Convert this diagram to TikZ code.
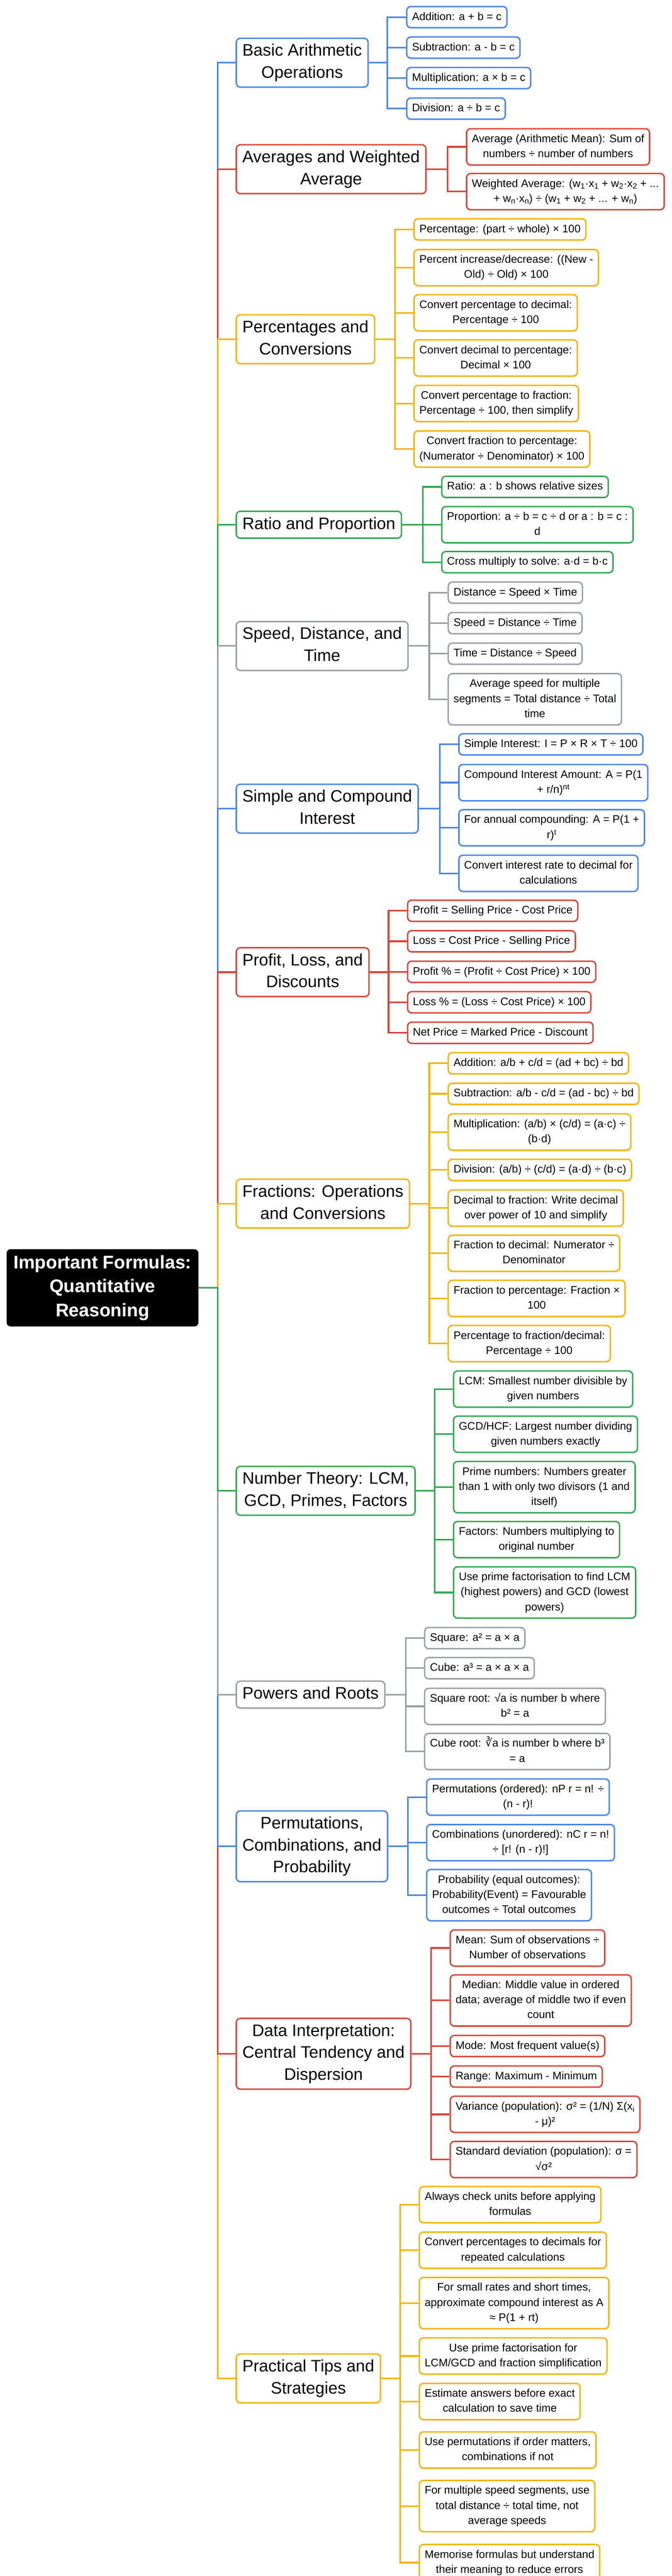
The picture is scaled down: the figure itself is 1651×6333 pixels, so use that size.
\documentclass[tikz,border=0pt]{standalone}
\usepackage{fontspec}
\setmainfont{Liberation Sans}
\newfontfamily\dejavu{DejaVu Sans}
\usetikzlibrary{shadows}
\definecolor{cb}{RGB}{74,134,232}
\definecolor{cr}{RGB}{219,68,55}
\definecolor{cy}{RGB}{244,180,0}
\definecolor{cg}{RGB}{52,168,83}
\definecolor{cgr}{RGB}{154,160,166}
\newcommand\NL{\\\strut}
\newcommand\sub[1]{\textsubscript{#1}}
\newcommand\sups[1]{\textsuperscript{#1}}
\pgfdeclarelayer{bg}
\pgfsetlayers{bg,main}
\tikzset{
  box/.style={rounded corners=10pt, line width=3.5pt, fill=white, align=center,
    drop shadow={opacity=0.18, shadow xshift=0pt, shadow yshift=-3pt}},
  leaf/.style={box, draw=#1, anchor=west, inner xsep=13pt, inner ysep=7.5pt,
    font=\fontsize{27}{37}\selectfont},
  cat/.style={box, draw=#1, anchor=west, inner xsep=15pt, inner ysep=6pt,
    font=\fontsize{41}{54}\selectfont},
  conn/.style={draw=#1, line width=4pt},
}
\begin{document}
\begin{tikzpicture}[x=1pt,y=-1pt]
\useasboundingbox (0,0) rectangle (1651,6333);
% root
\node[fill=black, text=white, rounded corners=10pt, align=center, inner xsep=17pt, inner ysep=6.5pt,
  font=\fontsize{45}{59}\selectfont\bfseries, anchor=west] (root) at (16,3166)
  {\strut Important Formulas:\NL Quantitative\NL Reasoning};
% categories
\node[cat=cb] (c1) at (579,154) {\strut Basic Arithmetic\NL Operations};
\node[cat=cr] (c2) at (579,416) {\strut Averages and Weighted\NL Average};
\node[cat=cy] (c3) at (579,834) {\strut Percentages and\NL Conversions};
\node[cat=cg] (c4) at (579,1290) {\strut Ratio and Proportion};
\node[cat=cgr] (c5) at (579,1588) {\strut Speed, Distance, and\NL Time};
\node[cat=cb] (c6) at (579,1988) {\strut Simple and Compound\NL Interest};
\node[cat=cr] (c7) at (579,2390) {\strut Profit, Loss, and\NL Discounts};
\node[cat=cy] (c8) at (579,2959) {\strut Fractions: Operations\NL and Conversions};
\node[cat=cg] (c9) at (579,3665) {\strut Number Theory: LCM,\NL GCD, Primes, Factors};
\node[cat=cgr] (c10) at (579,4166) {\strut Powers and Roots};
\node[cat=cb] (c11) at (579,4539) {\strut Permutations,\NL Combinations, and\NL Probability};
\node[cat=cr] (c12) at (579,5049) {\strut Data Interpretation:\NL Central Tendency and\NL Dispersion};
\node[cat=cy] (c13) at (579,5847) {\strut Practical Tips and\NL Strategies};
% leaves 1
\node[leaf=cb] (a1) at (998,42) {\strut Addition: a + b = c};
\node[leaf=cb] (a2) at (998,117) {\strut Subtraction: a - b = c};
\node[leaf=cb] (a3) at (998,192) {\strut Multiplication: a × b = c};
\node[leaf=cb] (a4) at (998,267) {\strut Division: a ÷ b = c};
% 2
\node[leaf=cr] (b1) at (1145,361) {\strut Average (Arithmetic Mean): Sum of\NL numbers ÷ number of numbers};
\node[leaf=cr] (b2) at (1145,471) {\strut Weighted Average: (w\sub{1}·x\sub{1} + w\sub{2}·x\sub{2} + ...\NL + w\sub{n}·x\sub{n}) ÷ (w\sub{1} + w\sub{2} + ... + w\sub{n})};
% 3
\node[leaf=cy] (d1) at (1016,564) {\strut Percentage: (part ÷ whole) × 100};
\node[leaf=cy] (d2) at (1016,658) {\strut Percent increase/decrease: ((New -\NL Old) ÷ Old) × 100};
\node[leaf=cy] (d3) at (1016,769) {\strut Convert percentage to decimal:\NL Percentage ÷ 100};
\node[leaf=cy] (d4) at (1016,880) {\strut Convert decimal to percentage:\NL Decimal × 100};
\node[leaf=cy] (d5) at (1016,992) {\strut Convert percentage to fraction:\NL Percentage ÷ 100, then simplify};
\node[leaf=cy] (d6) at (1016,1104) {\strut Convert fraction to percentage:\NL (Numerator ÷ Denominator) × 100};
% 4
\node[leaf=cg] (e1) at (1084,1197) {\strut Ratio: a : b shows relative sizes};
\node[leaf=cg] (e2) at (1084,1290) {\strut Proportion: a ÷ b = c ÷ d or a : b = c :\NL d};
\node[leaf=cg] (e3) at (1084,1382) {\strut Cross multiply to solve: a·d = b·c};
% 5
\node[leaf=cgr] (f1) at (1100,1457) {\strut Distance = Speed × Time};
\node[leaf=cgr] (f2) at (1100,1532) {\strut Speed = Distance ÷ Time};
\node[leaf=cgr] (f3) at (1100,1607) {\strut Time = Distance ÷ Speed};
\node[leaf=cgr] (f4) at (1100,1719) {\strut Average speed for multiple\NL segments = Total distance ÷ Total\NL time};
% 6
\node[leaf=cb] (g1) at (1126,1830) {\strut Simple Interest: I = P × R × T ÷ 100};
\node[leaf=cb] (g2) at (1126,1924) {\strut Compound Interest Amount: A = P(1\NL + r/n)\sups{nt}};
\node[leaf=cb] (g3) at (1126,2035) {\strut For annual compounding: A = P(1 +\NL r)\sups{t}};
\node[leaf=cb] (g4) at (1126,2147) {\strut Convert interest rate to decimal for\NL calculations};
% 7
\node[leaf=cr] (h1) at (1000,2239) {\strut Profit = Selling Price - Cost Price};
\node[leaf=cr] (h2) at (1000,2314) {\strut Loss = Cost Price - Selling Price};
\node[leaf=cr] (h3) at (1000,2389) {\strut Profit \% = (Profit ÷ Cost Price) × 100};
\node[leaf=cr] (h4) at (1000,2464) {\strut Loss \% = (Loss ÷ Cost Price) × 100};
\node[leaf=cr] (h5) at (1000,2539) {\strut Net Price = Marked Price - Discount};
% 8
\node[leaf=cy] (i1) at (1100,2614) {\strut Addition: a/b + c/d = (ad + bc) ÷ bd};
\node[leaf=cy] (i2) at (1100,2689) {\strut Subtraction: a/b - c/d = (ad - bc) ÷ bd};
\node[leaf=cy] (i3) at (1100,2783) {\strut Multiplication: (a/b) × (c/d) = (a·c) ÷\NL (b·d)};
\node[leaf=cy] (i4) at (1100,2876) {\strut Division: (a/b) ÷ (c/d) = (a·d) ÷ (b·c)};
\node[leaf=cy] (i5) at (1100,2970) {\strut Decimal to fraction: Write decimal\NL over power of 10 and simplify};
\node[leaf=cy] (i6) at (1100,3081) {\strut Fraction to decimal: Numerator ÷\NL Denominator};
\node[leaf=cy] (i7) at (1100,3192) {\strut Fraction to percentage: Fraction ×\NL 100};
\node[leaf=cy] (i8) at (1100,3303) {\strut Percentage to fraction/decimal:\NL Percentage ÷ 100};
% 9
\node[leaf=cg] (j1) at (1113,3415) {\strut LCM: Smallest number divisible by\NL given numbers};
\node[leaf=cg] (j2) at (1113,3526) {\strut GCD/HCF: Largest number dividing\NL given numbers exactly};
\node[leaf=cg] (j3) at (1113,3656) {\strut Prime numbers: Numbers greater\NL than 1 with only two divisors (1 and\NL itself)};
\node[leaf=cg] (j4) at (1113,3785) {\strut Factors: Numbers multiplying to\NL original number};
\node[leaf=cg] (j5) at (1113,3915) {\strut Use prime factorisation to find LCM\NL (highest powers) and GCD (lowest\NL powers)};
% 10
\node[leaf=cgr] (k1) at (1042,4027) {\strut Square: a² = a × a};
\node[leaf=cgr] (k2) at (1042,4101) {\strut Cube: a³ = a × a × a};
\node[leaf=cgr] (k3) at (1042,4195) {\strut Square root: √a is number b where\NL b² = a};
\node[leaf=cgr] (k4) at (1042,4306) {\strut Cube root: {\dejavu ∛}a is number b where b³\NL = a};
% 11
\node[leaf=cb] (l1) at (1047,4418) {\strut Permutations (ordered): nP r = n! ÷\NL (n - r)!};
\node[leaf=cb] (l2) at (1047,4530) {\strut Combinations (unordered): nC r = n!\NL ÷ [r! (n - r)!]};
\node[leaf=cb] (l3) at (1047,4659) {\strut Probability (equal outcomes):\NL Probability(Event) = Favourable\NL outcomes ÷ Total outcomes};
% 12
\node[leaf=cr] (m1) at (1105,4789) {\strut Mean: Sum of observations ÷\NL Number of observations};
\node[leaf=cr] (m2) at (1105,4918) {\strut Median: Middle value in ordered\NL data; average of middle two if even\NL count};
\node[leaf=cr] (m3) at (1105,5030) {\strut Mode: Most frequent value(s)};
\node[leaf=cr] (m4) at (1105,5105) {\strut Range: Maximum - Minimum};
\node[leaf=cr] (m5) at (1105,5198) {\strut Variance (population): σ² = (1/N) Σ(x\sub{i}\NL - μ)²};
\node[leaf=cr] (m6) at (1105,5309) {\strut Standard deviation (population): σ =\NL √σ²};
% 13
\node[leaf=cy] (n1) at (1029,5420) {\strut Always check units before applying\NL formulas};
\node[leaf=cy] (n2) at (1029,5532) {\strut Convert percentages to decimals for\NL repeated calculations};
\node[leaf=cy] (n3) at (1029,5662) {\strut For small rates and short times,\NL approximate compound interest as A\NL ≈ P(1 + rt)};
\node[leaf=cy] (n4) at (1029,5792) {\strut Use prime factorisation for\NL LCM/GCD and fraction simplification};
\node[leaf=cy] (n5) at (1029,5904) {\strut Estimate answers before exact\NL calculation to save time};
\node[leaf=cy] (n6) at (1029,6023) {\strut Use permutations if order matters,\NL combinations if not};
\node[leaf=cy] (n7) at (1029,6161) {\strut For multiple speed segments, use\NL total distance ÷ total time, not\NL average speeds};
\node[leaf=cy] (n8) at (1029,6300) {\strut Memorise formulas but understand\NL their meaning to reduce errors};

\begin{pgfonlayer}{bg}
% trunk: farthest first
\foreach \c/\col in {c1/cb,c2/cr,c3/cy,c4/cg,c5/cgr,c6/cb,c7/cr,c8/cy,c13/cy,c12/cr,c11/cb,c10/cgr,c9/cg}
  \draw[conn=\col] (root.east) -- (535,3166) |- (\c.west);
% branches
\foreach \n in {a1,a2,a3,a4} \draw[conn=cb] (c1.east) -- (952,154) |- (\n.west);
\foreach \n in {b1,b2} \draw[conn=cr] (c2.east) -- (1100,416) |- (\n.west);
\foreach \n in {d1,d2,d3,d4,d5,d6} \draw[conn=cy] (c3.east) -- (971,834) |- (\n.west);
\foreach \n in {e1,e2,e3} \draw[conn=cg] (c4.east) -- (1039,1290) |- (\n.west);
\foreach \n in {f1,f2,f3,f4} \draw[conn=cgr] (c5.east) -- (1055,1588) |- (\n.west);
\foreach \n in {g1,g2,g3,g4} \draw[conn=cb] (c6.east) -- (1081,1988) |- (\n.west);
\foreach \n in {h1,h2,h3,h4,h5} \draw[conn=cr] (c7.east) -- (955,2390) |- (\n.west);
\foreach \n in {i1,i2,i3,i4,i5,i6,i7,i8} \draw[conn=cy] (c8.east) -- (1055,2959) |- (\n.west);
\foreach \n in {j1,j2,j3,j4,j5} \draw[conn=cg] (c9.east) -- (1068,3665) |- (\n.west);
\foreach \n in {k1,k2,k3,k4} \draw[conn=cgr] (c10.east) -- (997,4166) |- (\n.west);
\foreach \n in {l1,l2,l3} \draw[conn=cb] (c11.east) -- (1002,4539) |- (\n.west);
\foreach \n in {m1,m2,m3,m4,m5,m6} \draw[conn=cr] (c12.east) -- (1060,5049) |- (\n.west);
\foreach \n in {n1,n2,n3,n4,n5,n6,n7,n8} \draw[conn=cy] (c13.east) -- (984,5847) |- (\n.west);
\end{pgfonlayer}
\end{tikzpicture}
\end{document}
